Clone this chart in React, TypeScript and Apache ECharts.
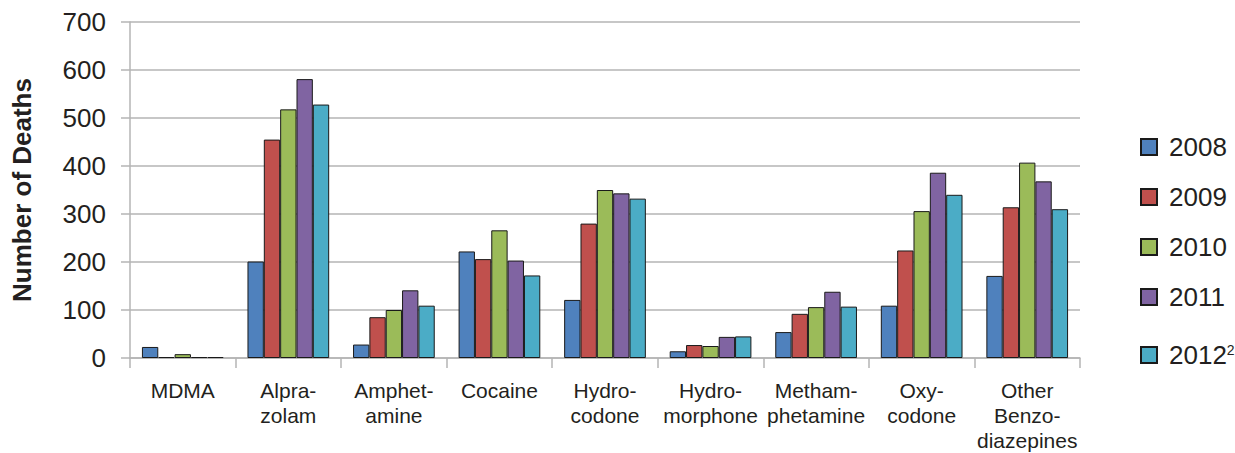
import React, { useEffect, useRef } from "react";
import * as echarts from "echarts";

// Drug categories (x axis), line breaks follow the printed hyphenation
const categories = [
  "MDMA",
  "Alpra-\nzolam",
  "Amphet-\namine",
  "Cocaine",
  "Hydro-\ncodone",
  "Hydro-\nmorphone",
  "Metham-\nphetamine",
  "Oxy-\ncodone",
  "Other\nBenzo-\ndiazepines",
];

// Number of deaths per year, in category order
const deaths2008 = [23, 201, 28, 222, 121, 14, 54, 109, 171];
const deaths2009 = [2, 455, 85, 206, 280, 27, 92, 224, 314];
const deaths2010 = [8, 518, 100, 266, 350, 25, 106, 306, 407];
const deaths2011 = [2, 581, 141, 203, 343, 44, 138, 386, 368];
const deaths2012 = [2, 528, 109, 172, 332, 45, 107, 340, 310];

const yearNames = ["2008", "2009", "2010", "2011", "2012"];
const yearColors = ["#4F81BD", "#C0504D", "#9BBB59", "#8064A2", "#4BACC6"];
const yTicks = { min: 0, max: 700, interval: 100 };

const FONT = "'Liberation Sans', Arial, Helvetica, sans-serif";
const TEXT = "#231f20";
const GRID = "#b4b4b4";

export default function App() {
  const ref = useRef<HTMLDivElement>(null);

  useEffect(() => {
    if (!ref.current) return;
    const chart = echarts.init(ref.current, undefined, { renderer: "svg" });
    const values = [deaths2008, deaths2009, deaths2010, deaths2011, deaths2012];

    const legendText = {
      fontFamily: FONT,
      fontSize: 26,
      lineHeight: 26,
      color: TEXT,
      padding: [0, 0, 0, 7],
    };

    chart.setOption({
      animation: false,
      textStyle: { fontFamily: FONT },
      grid: { left: 130, right: 155, top: 22, bottom: 92 },
      legend: [
        {
          data: yearNames.slice(0, 4),
          orient: "vertical",
          left: 1140,
          top: 134,
          padding: 0,
          itemWidth: 16,
          itemHeight: 16,
          itemGap: 24,
          icon: "rect",
          textStyle: legendText,
          selectedMode: false,
        },
        {
          data: [yearNames[4]],
          orient: "vertical",
          left: 1140,
          top: 342,
          padding: 0,
          itemWidth: 16,
          itemHeight: 16,
          icon: "rect",
          selectedMode: false,
          formatter: (name: string) => `{y|${name}}{s|2}`,
          textStyle: {
            ...legendText,
            rich: {
              y: { fontFamily: FONT, fontSize: 26, lineHeight: 26, color: TEXT },
              s: {
                fontFamily: FONT,
                fontSize: 14,
                color: TEXT,
                padding: [0, 0, 11, 0],
              },
            },
          },
        },
      ],
      xAxis: {
        type: "category",
        data: categories,
        axisLine: { show: true, lineStyle: { color: GRID, width: 1.5 } },
        axisTick: {
          show: true,
          length: 10,
          lineStyle: { color: GRID, width: 1.5 },
        },
        axisLabel: {
          color: TEXT,
          fontSize: 21,
          lineHeight: 25,
          margin: 20,
          interval: 0,
          fontFamily: FONT,
        },
      },
      yAxis: {
        type: "value",
        min: yTicks.min,
        max: yTicks.max,
        interval: yTicks.interval,
        name: "Number of Deaths",
        nameLocation: "middle",
        nameRotate: 90,
        nameGap: 95,
        nameTextStyle: {
          fontFamily: FONT,
          fontSize: 26,
          fontWeight: "bold",
          color: TEXT,
        },
        axisLine: { show: true, lineStyle: { color: GRID, width: 1.5 } },
        axisTick: {
          show: true,
          length: 9,
          lineStyle: { color: GRID, width: 1.5 },
        },
        axisLabel: {
          color: TEXT,
          fontSize: 26,
          margin: 24,
          fontFamily: FONT,
        },
        splitLine: { lineStyle: { color: GRID, width: 1.5 } },
      },
      series: yearNames.map((name, i) => ({
        name,
        type: "bar",
        data: values[i],
        barGap: "0%",
        barCategoryGap: "22.6%",
        itemStyle: {
          color: yearColors[i],
          borderColor: "#1a1a1a",
          borderWidth: 1,
        },
      })),
    });

    return () => chart.dispose();
  }, []);

  return (
    <div
      ref={ref}
      style={{ position: "absolute", left: 0, top: 0, width: 1235, height: 453 }}
    />
  );
}
